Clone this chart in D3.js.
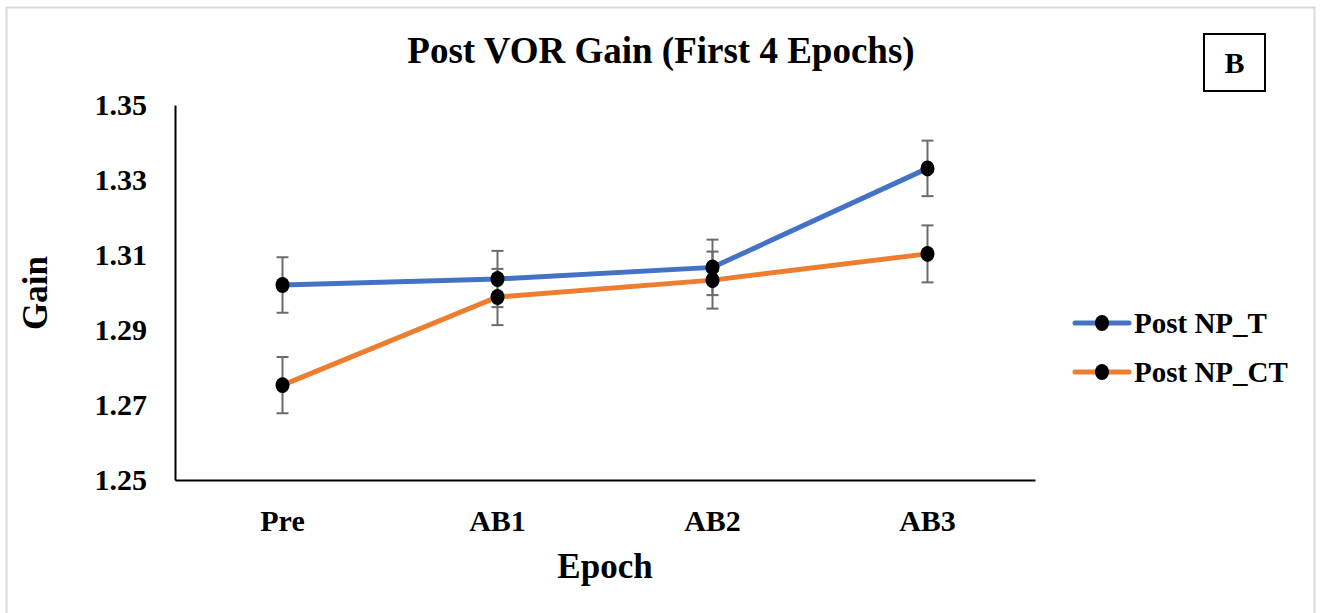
<!DOCTYPE html>
<html>
<head>
<meta charset="utf-8">
<script src="https://cdn.jsdelivr.net/npm/d3@7"></script>
<style>
  body { margin: 0; background: white; }
  text { font-family: 'Liberation Serif', 'Times New Roman', serif; font-weight: bold; fill: black; }
</style>
</head>
<body>
<div id="chart"></div>
<script>
// categories on the x axis
const epochs = ['Pre', 'AB1', 'AB2', 'AB3'];

// mean gain per epoch for each series
const postNP_T = [1.3020, 1.3036, 1.3067, 1.3331];
const postNP_CT = [1.2753, 1.2988, 1.3033, 1.3103];

// error bar half-widths
const errNP_T = [0.0074, 0.0075, 0.0074, 0.0074];
const errNP_CT = [0.0075, 0.0075, 0.0076, 0.0076];

const yTicks = [1.25, 1.27, 1.29, 1.31, 1.33, 1.35];

const seriesNames = ['Post NP_T', 'Post NP_CT'];
const seriesColors = ['#4472C4', '#ED7D31'];

let width = 1320,
    height = 613;

let margin = { top: 105, bottom: 133, left: 175, right: 285 };

let svg = d3.select('#chart')
            .append('svg')
            .attr('width', width)
            .attr('height', height)
            .style('display', 'block');

// light outer frame
svg.append('rect')
    .attr('x', 6.5)
    .attr('y', 7.5)
    .attr('width', 1308)
    .attr('height', 620)
    .attr('fill', 'white')
    .attr('stroke', '#d9d9d9')
    .attr('stroke-width', 2);

// scales
let xScale = d3.scaleBand()
            .domain(epochs)
            .range([margin.left, width - margin.right]);

let yScale = d3.scaleLinear()
            .domain([1.25, 1.35])
            .range([height - margin.bottom, margin.top]);

// axes: just the lines, no tick marks
let yAxis = svg.append('g')
            .attr('transform', `translate(${margin.left}, 0)`)
            .call(d3.axisLeft(yScale).tickValues(yTicks).tickFormat(d3.format('.2f')).tickSize(0).tickPadding(28));

let xAxis = svg.append('g')
            .attr('transform', `translate(0, ${height - margin.bottom})`)
            .call(d3.axisBottom(xScale).tickSize(0).tickPadding(28));

svg.selectAll('.domain')
    .attr('stroke', '#000')
    .attr('stroke-width', 2);

yAxis.selectAll('text')
    .style('font-family', "'Liberation Serif', serif")
    .style('font-weight', 'bold')
    .style('font-size', '30px');

xAxis.selectAll('text')
    .style('font-family', "'Liberation Serif', serif")
    .style('font-weight', 'bold')
    .style('font-size', '30px')
    .attr('dy', '0.75em');

// title
svg.append('text')
    .attr('x', 661)
    .attr('y', 63)
    .attr('text-anchor', 'middle')
    .style('font-size', '37px')
    .text('Post VOR Gain (First 4 Epochs)');

// panel letter box
svg.append('rect')
    .attr('x', 1204)
    .attr('y', 34)
    .attr('width', 61)
    .attr('height', 57)
    .attr('fill', 'none')
    .attr('stroke', '#000')
    .attr('stroke-width', 2);

svg.append('text')
    .attr('x', 1234.5)
    .attr('y', 73)
    .attr('text-anchor', 'middle')
    .style('font-size', '30px')
    .text('B');

// axis titles
svg.append('text')
    .attr('x', xScale.range()[0] / 2 + xScale.range()[1] / 2)
    .attr('y', 578)
    .attr('text-anchor', 'middle')
    .style('font-size', '35px')
    .text('Epoch');

svg.append('text')
    .attr('transform', 'translate(47, 293) rotate(-90)')
    .attr('text-anchor', 'middle')
    .style('font-size', '35px')
    .text('Gain');

// build series from the arrays
let series = [
    { name: seriesNames[0], color: seriesColors[0], values: postNP_T, errs: errNP_T },
    { name: seriesNames[1], color: seriesColors[1], values: postNP_CT, errs: errNP_CT }
];

let cx = d => xScale(d.epoch) + xScale.bandwidth() / 2;

series.forEach(function(s) {
    s.points = epochs.map((e, i) => ({ epoch: e, value: s.values[i], err: s.errs[i] }));
});

let line = d3.line()
            .x(cx)
            .y(d => yScale(d.value));

// error bars first so lines sit on top
series.forEach(function(s) {
    let eb = svg.append('g').attr('class', 'errbars');
    eb.selectAll('line.stem')
        .data(s.points)
        .enter()
        .append('line')
        .attr('x1', cx).attr('x2', cx)
        .attr('y1', d => yScale(d.value + d.err))
        .attr('y2', d => yScale(d.value - d.err))
        .attr('stroke', '#6b6b6b')
        .attr('stroke-width', 2);
    [1, -1].forEach(function(sign) {
        eb.selectAll(null)
            .data(s.points)
            .enter()
            .append('line')
            .attr('x1', d => cx(d) - 6).attr('x2', d => cx(d) + 6)
            .attr('y1', d => yScale(d.value + sign * d.err))
            .attr('y2', d => yScale(d.value + sign * d.err))
            .attr('stroke', '#6b6b6b')
            .attr('stroke-width', 2);
    });
});

series.forEach(function(s) {
    svg.append('path')
        .datum(s.points)
        .attr('d', line)
        .attr('fill', 'none')
        .attr('stroke', s.color)
        .attr('stroke-width', 5);
});

series.forEach(function(s) {
    svg.selectAll(null)
        .data(s.points)
        .enter()
        .append('ellipse')
        .attr('cx', cx)
        .attr('cy', d => yScale(d.value))
        .attr('rx', 7)
        .attr('ry', 8)
        .attr('fill', '#000');
});

// legend
let legend = svg.append('g')
            .attr('transform', 'translate(1075, 323)');

let legendItem = legend.selectAll('.legend-item')
    .data(series)
    .enter()
    .append('g')
    .attr('class', 'legend-item')
    .attr('transform', (d, i) => `translate(0, ${i * 49})`);

legendItem.append('line')
    .attr('x1', 0).attr('x2', 54)
    .attr('y1', 0).attr('y2', 0)
    .attr('stroke', d => d.color)
    .attr('stroke-width', 5)
    .attr('stroke-linecap', 'round');

legendItem.append('ellipse')
    .attr('cx', 27)
    .attr('cy', 0)
    .attr('rx', 7)
    .attr('ry', 8)
    .attr('fill', '#000');

legendItem.append('text')
    .attr('x', 59)
    .attr('y', 10)
    .style('font-size', '29px')
    .text(d => d.name);
</script>
</body>
</html>
